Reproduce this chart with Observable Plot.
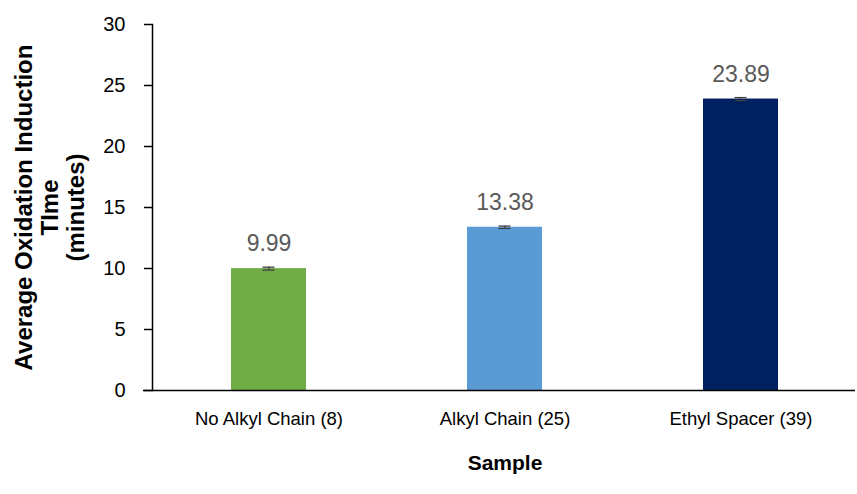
<!DOCTYPE html>
<html>
<head>
<meta charset="utf-8">
<script src="https://cdn.jsdelivr.net/npm/d3@7"></script>
<script src="https://cdn.jsdelivr.net/npm/@observablehq/plot@0.6"></script>
<style>
  html, body { margin: 0; padding: 0; background: #fff; }
  #chart svg { display: block; font-family: "Liberation Sans", Arial, sans-serif; }
</style>
</head>
<body>
<div id="chart"></div>
<script>
const categories = ["No Alkyl Chain (8)", "Alkyl Chain (25)", "Ethyl Spacer (39)"];
const values = [9.99, 13.38, 23.89];
const errors = [0.12, 0.10, 0.12];
const colors = ["#70AD47", "#5B9BD5", "#002060"];
const yTicks = [0, 5, 10, 15, 20, 25, 30];
const yTitle = "Average Oxidation Induction\nTIme\n(minutes)";
const xTitle = "Sample";

const data = categories.map((c, i) => ({
  cat: c, value: values[i], err: errors[i], color: colors[i],
  label: values[i].toFixed(2)
}));

const chart = Plot.plot({
  width: 857,
  height: 494,
  marginLeft: 152,
  marginRight: 0,
  marginTop: 24,
  marginBottom: 104,
  style: { fontFamily: "Liberation Sans, Arial, sans-serif", fontSize: "18px", background: "#fff", overflow: "visible" },
  x: { domain: categories, paddingInner: 0.684, paddingOuter: 0.33, label: null },
  y: { domain: [0, 30], label: null },
  marks: [
    Plot.barY(data, { x: "cat", y: "value", fill: d => d.color }),
    Plot.ruleX(data, { x: "cat", y1: d => d.value - d.err, y2: d => d.value + d.err, stroke: "#404040", strokeWidth: 1.3 }),
    Plot.tickY(data, { x: "cat", y: d => d.value - d.err, stroke: "#404040", strokeWidth: 1.3, insetLeft: 31.5, insetRight: 31.5 }),
    Plot.tickY(data, { x: "cat", y: d => d.value + d.err, stroke: "#404040", strokeWidth: 1.3, insetLeft: 31.5, insetRight: 31.5 }),
    Plot.text(data, { x: "cat", y: d => d.value + d.err, text: "label", fill: "#595959", fontSize: 23, lineAnchor: "bottom", dy: -16 }),
    Plot.axisY({ ticks: yTicks, tickSize: 8, tickPadding: 19, fontSize: 20, color: "#000", tickFormat: d => String(d), strokeWidth: 1.5, label: null }),
    Plot.axisX({ tickSize: 0, tickPadding: 21, fontSize: 18.5, color: "#000", label: null }),
    Plot.frame({ anchor: "left", stroke: "#000", strokeWidth: 1.5 }),
    Plot.ruleY([0], { stroke: "#000", strokeWidth: 1.5, insetLeft: -9, insetRight: 2 }),
    Plot.text([xTitle], { frameAnchor: "bottom", dy: 79, fontSize: 21, fontWeight: "bold", fill: "#000" }),
    Plot.text([yTitle], { frameAnchor: "left", textAnchor: "middle", lineAnchor: "middle", dx: -103, rotate: -90, fontSize: 24, fontWeight: "bold", fill: "#000", lineHeight: 1.08 })
  ]
});
document.getElementById("chart").appendChild(chart);
</script>
</body>
</html>
